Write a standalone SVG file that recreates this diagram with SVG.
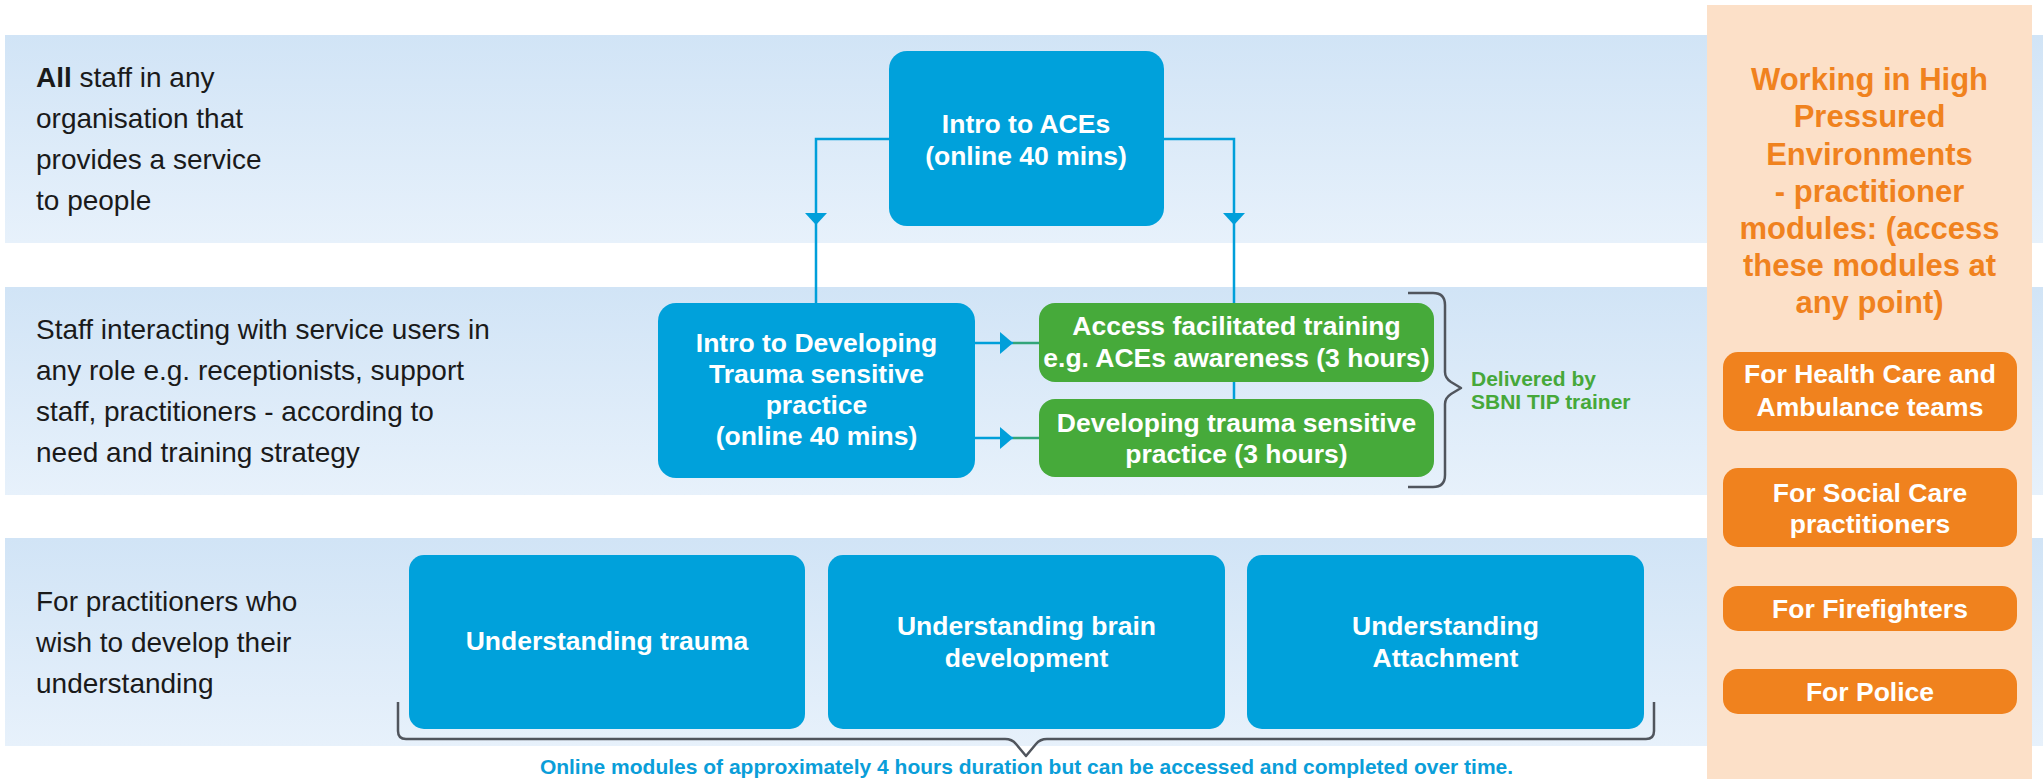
<svg xmlns="http://www.w3.org/2000/svg" width="2043" height="779" viewBox="0 0 2043 779">
<defs>
<linearGradient id="band" x1="0" y1="0" x2="0" y2="1">
<stop offset="0" stop-color="#D1E4F6"/>
<stop offset="1" stop-color="#E7F1FB"/>
</linearGradient>
</defs>
<style>
.lbl{font-family:"Liberation Sans",Arial,Helvetica,sans-serif;font-size:28px;fill:#1A1A1A}
.bt{font-family:"Liberation Sans",Arial,Helvetica,sans-serif;font-size:26.5px;font-weight:bold;fill:#FFFFFF;text-anchor:middle}
.blue{fill:#00A1DB}
.green{fill:#46AA3A}
.obtn{fill:#F0821E}
.otitle{font-family:"Liberation Sans",Arial,Helvetica,sans-serif;font-size:31px;font-weight:bold;fill:#F0821E;text-anchor:middle}
.conn{fill:none;stroke:#009FDA;stroke-width:2.5}
.ah{fill:#009FDA}
.brace{fill:none;stroke:#50555D;stroke-width:2.5;stroke-linejoin:round}
.gtext{font-family:"Liberation Sans",Arial,Helvetica,sans-serif;font-size:21px;font-weight:bold;fill:#46A83A}
.cap{font-family:"Liberation Sans",Arial,Helvetica,sans-serif;font-size:21px;font-weight:bold;fill:#0A9ED9;text-anchor:middle}
</style>
<rect width="2043" height="779" fill="#FFFFFF"/>
<g id="bands">
<rect x="5" y="35" width="2038" height="208" fill="url(#band)"/>
<rect x="5" y="287" width="2038" height="208" fill="url(#band)"/>
<rect x="5" y="538" width="2038" height="208" fill="url(#band)"/>
</g>
<g id="row-labels">
<text class="lbl" x="36" y="87"><tspan font-weight="bold">All</tspan> staff in any</text>
<text class="lbl" x="36" y="128">organisation that</text>
<text class="lbl" x="36" y="169">provides a service</text>
<text class="lbl" x="36" y="210">to people</text>
<text class="lbl" x="36" y="339">Staff interacting with service users in</text>
<text class="lbl" x="36" y="380">any role e.g. receptionists, support</text>
<text class="lbl" x="36" y="421">staff, practitioners - according to</text>
<text class="lbl" x="36" y="462">need and training strategy</text>
<text class="lbl" x="36" y="611">For practitioners who</text>
<text class="lbl" x="36" y="652">wish to develop their</text>
<text class="lbl" x="36" y="693">understanding</text>
</g>
<g id="connectors">
<path class="conn" d="M889 139 H816 V303"/>
<polygon class="ah" points="805,213 827,213 816,225"/>
<path class="conn" d="M1164 139 H1234 V399"/>
<polygon class="ah" points="1223,213 1245,213 1234,225"/>
<path class="conn" d="M975 343 H1013"/>
<path d="M1013 343 H1039" fill="none" stroke="#33A57A" stroke-width="2.5"/>
<polygon class="ah" points="1000,332 1000,354 1013,343"/>
<path class="conn" d="M975 438 H1013"/>
<path d="M1013 438 H1039" fill="none" stroke="#33A57A" stroke-width="2.5"/>
<polygon class="ah" points="1000,427 1000,449 1013,438"/>
<path class="brace" d="M1408 293 H1433 Q1445 293 1445 305 V372 Q1445 378 1451 382 L1461 388 L1451 394 Q1445 398 1445 404 V475 Q1445 487 1433 487 H1408"/>
<path class="brace" d="M398 702 V731 Q398 739 406 739 H1005 Q1012 739 1016 744 L1026 756 L1036 744 Q1040 739 1047 739 H1646 Q1654 739 1654 731 V702"/>
</g>
<g id="node-intro-aces">
<rect class="blue" x="889" y="51" width="275" height="175" rx="18"/>
<text class="bt" x="1026" y="133">Intro to ACEs</text>
<text class="bt" x="1026" y="165">(online 40 mins)</text>
</g>
<g id="node-intro-developing">
<rect class="blue" x="658" y="303" width="317" height="175" rx="18"/>
<text class="bt" x="816.5" y="352">Intro to Developing</text>
<text class="bt" x="816.5" y="383">Trauma sensitive</text>
<text class="bt" x="816.5" y="414">practice</text>
<text class="bt" x="816.5" y="445">(online 40 mins)</text>
</g>
<g id="node-access-facilitated">
<rect class="green" x="1039" y="303" width="395" height="79" rx="16"/>
<text class="bt" x="1236.5" y="335">Access facilitated training</text>
<text class="bt" x="1236.5" y="367">e.g. ACEs awareness (3 hours)</text>
</g>
<g id="node-developing-trauma">
<rect class="green" x="1039" y="399" width="395" height="78" rx="16"/>
<text class="bt" x="1236.5" y="432">Developing trauma sensitive</text>
<text class="bt" x="1236.5" y="463">practice (3 hours)</text>
</g>
<g id="delivered-by">
<text class="gtext" x="1471" y="386">Delivered by</text>
<text class="gtext" x="1471" y="409">SBNI TIP trainer</text>
</g>
<g id="node-understanding-trauma">
<rect class="blue" x="409" y="555" width="396" height="174" rx="15"/>
<text class="bt" x="607" y="650">Understanding trauma</text>
</g>
<g id="node-understanding-brain">
<rect class="blue" x="828" y="555" width="397" height="174" rx="15"/>
<text class="bt" x="1026.5" y="635">Understanding brain</text>
<text class="bt" x="1026.5" y="667">development</text>
</g>
<g id="node-understanding-attachment">
<rect class="blue" x="1247" y="555" width="397" height="174" rx="15"/>
<text class="bt" x="1445.5" y="635">Understanding</text>
<text class="bt" x="1445.5" y="667">Attachment</text>
</g>
<g id="caption">
<text class="cap" x="1026.5" y="774">Online modules of approximately 4 hours duration but can be accessed and completed over time.</text>
</g>
<g id="panel-high-pressure">
<rect x="1707" y="5" width="325" height="774" fill="#FCE0C8"/>
<text class="otitle" x="1869.5" y="90">Working in High</text>
<text class="otitle" x="1869.5" y="127">Pressured</text>
<text class="otitle" x="1869.5" y="165">Environments</text>
<text class="otitle" x="1869.5" y="202">- practitioner</text>
<text class="otitle" x="1869.5" y="239">modules: (access</text>
<text class="otitle" x="1869.5" y="276">these modules at</text>
<text class="otitle" x="1869.5" y="313">any point)</text>
</g>
<g id="node-health-care">
<rect class="obtn" x="1723" y="352" width="294" height="79" rx="15"/>
<text class="bt" x="1870" y="383">For Health Care and</text>
<text class="bt" x="1870" y="416">Ambulance teams</text>
</g>
<g id="node-social-care">
<rect class="obtn" x="1723" y="468" width="294" height="79" rx="15"/>
<text class="bt" x="1870" y="502">For Social Care</text>
<text class="bt" x="1870" y="533">practitioners</text>
</g>
<g id="node-firefighters">
<rect class="obtn" x="1723" y="586" width="294" height="45" rx="15"/>
<text class="bt" x="1870" y="618">For Firefighters</text>
</g>
<g id="node-police">
<rect class="obtn" x="1723" y="669" width="294" height="45" rx="15"/>
<text class="bt" x="1870" y="701">For Police</text>
</g>
</svg>
